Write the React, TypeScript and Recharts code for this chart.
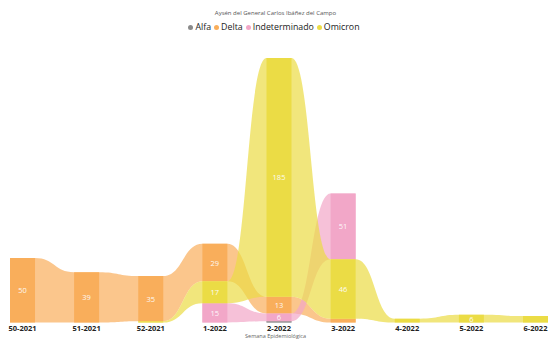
import { ComposedChart, Area, Scatter, XAxis, YAxis } from 'recharts';

const weeks = ['50-2021', '51-2021', '52-2021', '1-2022', '2-2022', '3-2022', '4-2022', '5-2022', '6-2022'];
const seriesNames = ['Alfa', 'Delta', 'Indeterminado', 'Omicron'];
const alfa = [0, 0, 0, 0, 1, 0, 0, 0, 0];
const delta = [50, 39, 35, 29, 13, 3, 0, 0, 0];
const indeterminado = [0, 0, 0, 15, 6, 51, 0, 0, 0];
const omicron = [0, 0, 1, 17, 185, 46, 3, 6, 5];
const colors = ['#8A8A8A', '#F9AE5B', '#F2A7C8', '#EBDC45'];

const values = [alfa, delta, indeterminado, omicron];
const HALF = 0.195; // half bar width in category units

// ribbon chart: per week the biggest series sits on top
const rows: any[] = [];
const labels: any[] = [];
weeks.forEach((w, i) => {
  const order = seriesNames
    .map((s, k) => ({ s, v: values[k][i] }))
    .filter((d) => d.v > 0)
    .sort((a, b) => a.v - b.v);
  const segs: Record<string, [number, number]> = {};
  let base = 0;
  order.forEach((d) => {
    segs[d.s] = [base, base + d.v];
    if (d.v >= 6) labels.push({ x: i, y: base + d.v / 2, v: d.v });
    base += d.v;
  });
  const left: any = { x: i - HALF };
  const right: any = { x: i + HALF };
  seriesNames.forEach((s) => {
    if (segs[s]) {
      left['rib' + s] = segs[s];
      right['rib' + s] = segs[s];
      left['bar' + s] = segs[s];
      right['bar' + s] = segs[s];
    } else {
      left['bar' + s] = null;
      right['bar' + s] = null;
    }
  });
  rows.push(left, right);
  if (i < weeks.length - 1) {
    const gap: any = { x: i + 0.5 };
    seriesNames.forEach((s) => (gap['bar' + s] = null));
    rows.push(gap);
  }
});

const font = '"Open Sans", "Noto Sans", sans-serif';

const LabelText = (props: any) => {
  const { cx, cy, payload } = props;
  return (
    <text x={cx} y={cy} dy={3} textAnchor="middle" fill="#fff" fontSize={7.5} fontFamily={font} opacity={0.92}>
      {payload.v}
    </text>
  );
};

export default function App() {
  return (
    <div style={{ position: 'absolute', left: 0, top: 0, width: 551, height: 339, background: '#fff' }}>
      <div style={{ position: 'absolute', top: 9, width: 551, textAlign: 'center', fontFamily: font, fontSize: 6, color: '#555' }}>
        Aysén del General Carlos Ibáñez del Campo
      </div>
      <div style={{ position: 'absolute', top: 21, width: 551, display: 'flex', justifyContent: 'center', fontFamily: font, fontSize: 8.8, color: '#222' }}>
        {seriesNames.map((s, k) => (
          <span key={s} style={{ display: 'flex', alignItems: 'center', marginRight: 3 }}>
            <span style={{ width: 5, height: 5, borderRadius: 3, background: colors[k], marginRight: 2 }} />
            {s}
          </span>
        ))}
      </div>
      <ComposedChart width={551} height={339} data={rows} margin={{ top: 58, right: 0, bottom: 0, left: 0 }}>
        <XAxis
          dataKey="x"
          type="number"
          domain={[-0.351, 8.2417]}
          ticks={weeks.map((_, i) => i)}
          tickFormatter={(i: number) => weeks[i]}
          interval={0}
          axisLine={false}
          tickLine={false}
          tickSize={0}
          tickMargin={3}
          height={16.5}
          tick={{ fontSize: 7.5, fontWeight: 700, fill: '#222', fontFamily: font }}
        />
        <YAxis hide domain={[0, 205]} />
        {seriesNames.map((s, k) => (
          <Area
            key={'rib' + s}
            dataKey={'rib' + s}
            type="bumpX"
            stroke="none"
            fill={colors[k]}
            fillOpacity={0.7}
            connectNulls
            dot={false}
            activeDot={false}
            isAnimationActive={false}
          />
        ))}
        {seriesNames.map((s, k) => (
          <Area
            key={'bar' + s}
            dataKey={'bar' + s}
            type="linear"
            stroke="none"
            fill={colors[k]}
            fillOpacity={1}
            dot={false}
            activeDot={false}
            isAnimationActive={false}
          />
        ))}
        <Scatter data={labels} dataKey="y" shape={<LabelText />} isAnimationActive={false} />
      </ComposedChart>
      <div style={{ position: 'absolute', top: 332, width: 551, textAlign: 'center', fontFamily: font, fontSize: 5.5, color: '#666' }}>
        Semana Epidemiológica
      </div>
    </div>
  );
}
